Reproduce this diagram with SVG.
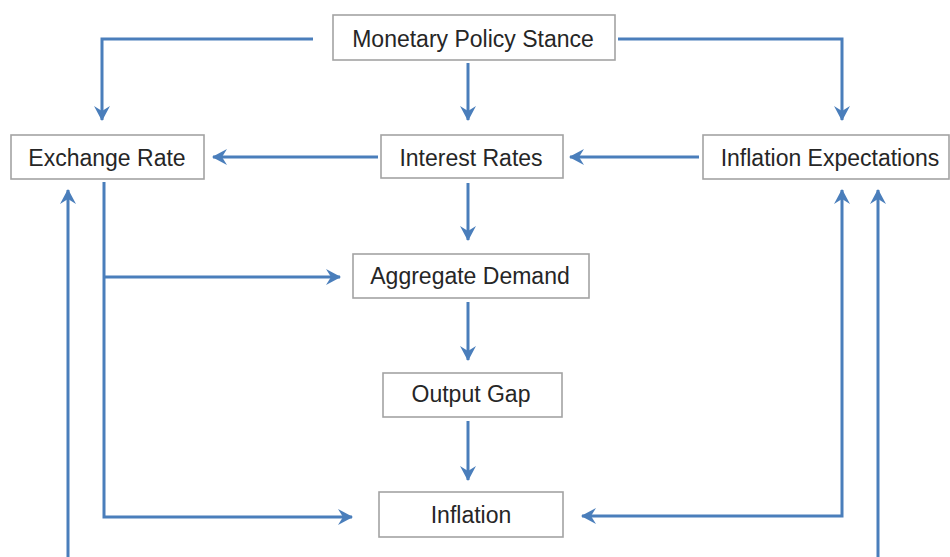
<svg xmlns="http://www.w3.org/2000/svg" width="950" height="557" viewBox="0 0 950 557">
<style>
.box{fill:#ffffff;stroke:#a3a3a3;stroke-width:1.6}
.lbl{font-family:"Liberation Sans",Arial,sans-serif;font-size:23px;fill:#262626;text-anchor:middle}
.con{fill:none;stroke:#4a7ebb;stroke-width:3}
</style>
<defs>
<marker id="ah" markerUnits="userSpaceOnUse" markerWidth="20" markerHeight="20" viewBox="-16 -10 18 20" refX="0" refY="0" orient="auto-start-reverse">
<path d="M1,0 L-14,-8 L-9,0 L-14,8 Z" fill="#4a7ebb"/>
</marker>
</defs>
<rect width="950" height="557" fill="#ffffff"/>
<g id="connectors">
<path class="con" d="M313,39 H102 V120" marker-end="url(#ah)"/>
<path class="con" d="M468,63 V120" marker-end="url(#ah)"/>
<path class="con" d="M618,39 H842 V120" marker-end="url(#ah)"/>
<path class="con" d="M378,157 H213" marker-end="url(#ah)"/>
<path class="con" d="M699,157 H570" marker-end="url(#ah)"/>
<path class="con" d="M468,183 V240" marker-end="url(#ah)"/>
<path class="con" d="M104,182 V517 H352" marker-end="url(#ah)"/>
<path class="con" d="M104,277 H340" marker-end="url(#ah)"/>
<path class="con" d="M468,302 V360" marker-end="url(#ah)"/>
<path class="con" d="M468,421 V480" marker-end="url(#ah)"/>
<path class="con" d="M842,190 V516 H582" marker-start="url(#ah)" marker-end="url(#ah)"/>
<path class="con" d="M68,560 V190" marker-end="url(#ah)"/>
<path class="con" d="M878,560 V190" marker-end="url(#ah)"/>
</g>
<g id="monetary-policy-stance">
<rect class="box" x="333" y="15" width="282" height="45"/>
<text class="lbl" x="473" y="47">Monetary Policy Stance</text>
</g>
<g id="exchange-rate">
<rect class="box" x="11" y="135" width="193" height="44"/>
<text class="lbl" x="107" y="166">Exchange Rate</text>
</g>
<g id="interest-rates">
<rect class="box" x="381" y="135" width="182" height="43"/>
<text class="lbl" x="471" y="166">Interest Rates</text>
</g>
<g id="inflation-expectations">
<rect class="box" x="703" y="135" width="246" height="44"/>
<text class="lbl" x="830" y="166">Inflation Expectations</text>
</g>
<g id="aggregate-demand">
<rect class="box" x="353" y="254" width="236" height="44"/>
<text class="lbl" x="470" y="284">Aggregate Demand</text>
</g>
<g id="output-gap">
<rect class="box" x="383" y="373" width="179" height="44"/>
<text class="lbl" x="471" y="402">Output Gap</text>
</g>
<g id="inflation">
<rect class="box" x="379" y="492" width="184" height="45"/>
<text class="lbl" x="471" y="523">Inflation</text>
</g>
</svg>
